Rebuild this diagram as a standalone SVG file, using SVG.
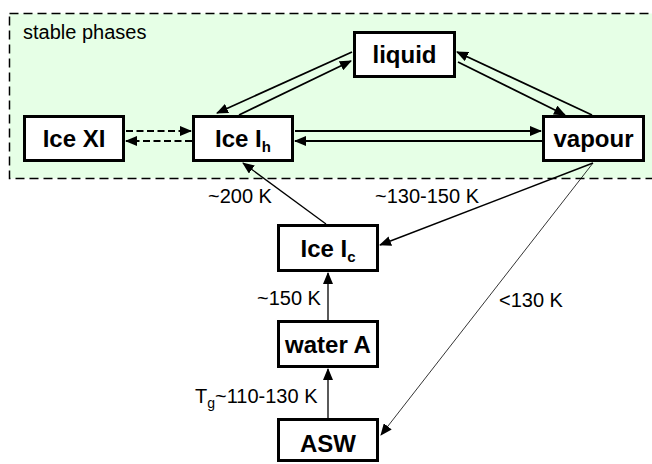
<svg xmlns="http://www.w3.org/2000/svg" width="652" height="464" viewBox="0 0 652 464">
<defs>
<style>
.box{fill:#fff;stroke:#000;stroke-width:3}
.bl{font-family:"Liberation Sans",Arial,sans-serif;font-weight:bold;font-size:24px;fill:#000;text-anchor:middle}
.lb{font-family:"Liberation Sans",Arial,sans-serif;font-size:20px;fill:#000}
.c{fill:none;stroke:#000;marker-end:url(#ah)}
.thick{stroke-width:1.8}
.dash{stroke-width:1.8;stroke-dasharray:7 3.5}
</style>
<marker id="ah" markerUnits="userSpaceOnUse" viewBox="0 0 12 10" markerWidth="12" markerHeight="10" refX="11" refY="5" orient="auto">
<path d="M0,0 L12,5 L0,10 z" fill="#000"/>
</marker>
</defs>
<rect id="stable" x="9.5" y="13.5" width="660" height="165" fill="#e6ffe6" stroke="#000" stroke-width="1.5" stroke-dasharray="9 5"/>
<text class="lb" x="23" y="39">stable phases</text>
<g id="connectors">
<line class="c thick" x1="352" y1="52" x2="217" y2="113"/>
<line class="c thick" x1="239" y1="115" x2="351" y2="61"/>
<line class="c thick" x1="592" y1="115" x2="457" y2="52"/>
<line class="c thick" x1="458" y1="62" x2="565" y2="115"/>
<line class="c thick" x1="295" y1="131" x2="541" y2="131"/>
<line class="c thick" x1="542" y1="141" x2="295" y2="141"/>
<line class="c dash" x1="126" y1="131" x2="191" y2="131"/>
<line class="c dash" x1="192" y1="141" x2="126" y2="141"/>
<line class="c" stroke-width="1.3" x1="326" y1="224" x2="243" y2="163"/>
<line class="c" stroke-width="1.5" x1="593" y1="163" x2="380" y2="245"/>
<line class="c" stroke-width="0.8" x1="593" y1="163" x2="381" y2="435"/>
<line class="c" stroke-width="1.3" x1="328" y1="320" x2="328" y2="273"/>
<line class="c" stroke-width="1.3" x1="328" y1="418" x2="328" y2="369"/>
</g>
<g id="iceXI"><rect class="box" x="24.5" y="116.5" width="99" height="44"/><text class="bl" x="74" y="147">Ice XI</text></g>
<g id="iceIh"><rect class="box" x="193.5" y="116.5" width="99" height="44"/><text class="bl" x="243" y="147">Ice I<tspan font-size="15" dy="5">h</tspan></text></g>
<g id="liquid"><rect class="box" x="354.5" y="32.5" width="100" height="44"/><text class="bl" x="404.5" y="63">liquid</text></g>
<g id="vapour"><rect class="box" x="543.5" y="116.5" width="100" height="44"/><text class="bl" x="593.5" y="147">vapour</text></g>
<g id="iceIc"><rect class="box" x="278.5" y="225.5" width="99" height="45"/><text class="bl" x="328" y="257">Ice I<tspan font-size="15" dy="5">c</tspan></text></g>
<g id="waterA"><rect class="box" x="278.5" y="321.5" width="99" height="45"/><text class="bl" x="328" y="353">water A</text></g>
<g id="asw"><rect class="box" x="278.5" y="419.5" width="99" height="41"/><text class="bl" x="328" y="452">ASW</text></g>
<g id="labels">
<text class="lb" x="208" y="203">~200 K</text>
<text class="lb" x="375" y="203">~130-150 K</text>
<text class="lb" x="257" y="305">~150 K</text>
<text class="lb" x="195" y="403">T<tspan font-size="14" dy="5">g</tspan><tspan dy="-5">~110-130 K</tspan></text>
<text class="lb" x="499" y="307">&lt;130 K</text>
</g>
</svg>
